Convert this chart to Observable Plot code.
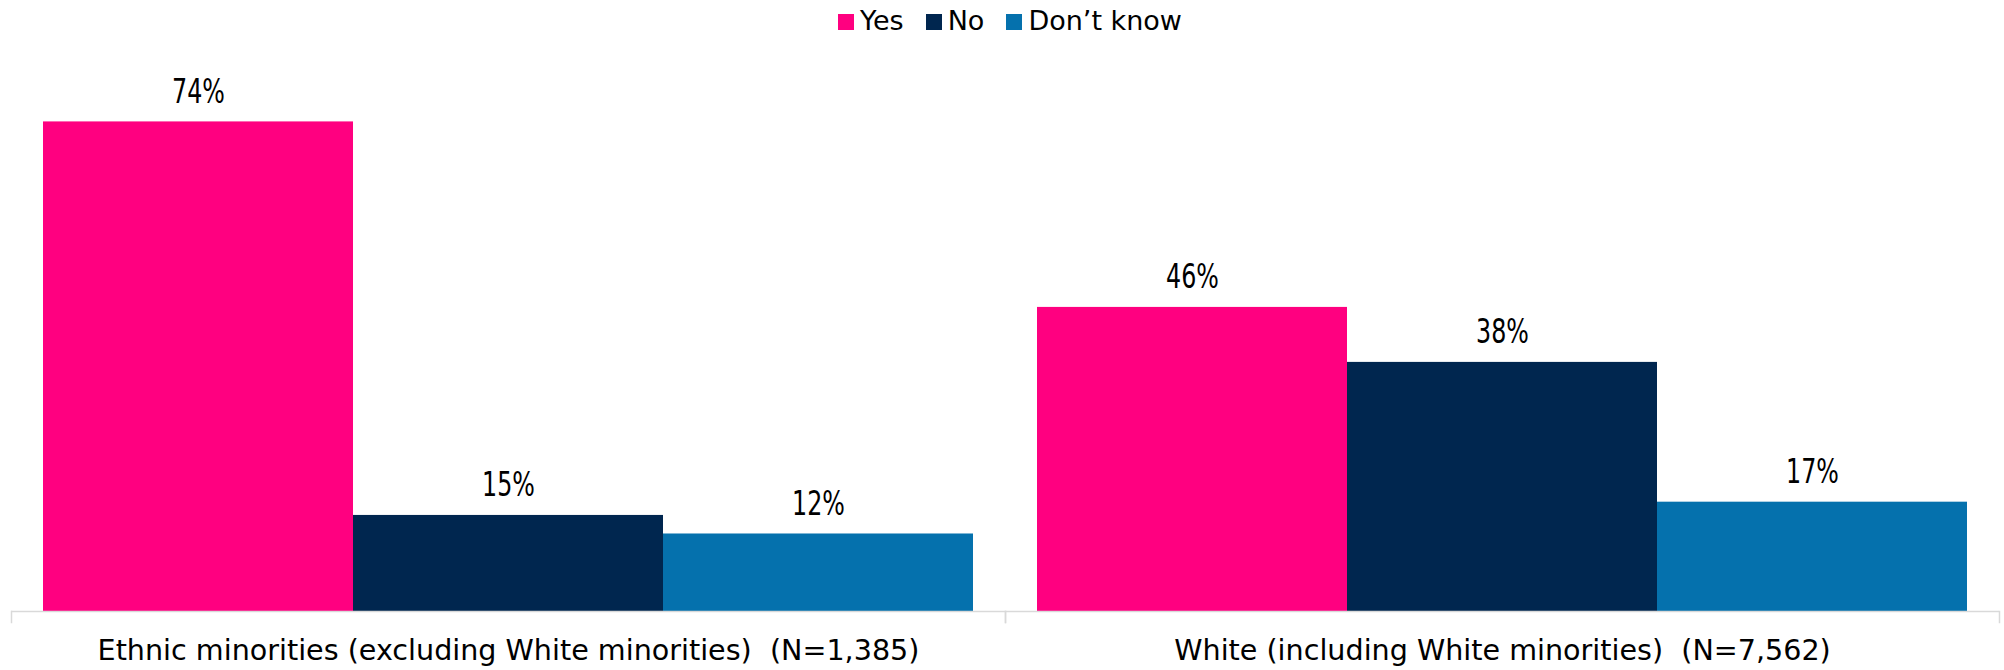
<!DOCTYPE html>
<html>
<head>
<meta charset="utf-8">
<script src="https://cdn.jsdelivr.net/npm/d3@7"></script>
<script src="https://cdn.jsdelivr.net/npm/@observablehq/plot@0.6"></script>
<style>
  html, body { margin: 0; padding: 0; background: #fff; }
  body { width: 2004px; font-family: "DejaVu Sans", sans-serif; }
  #legend { height: 40px; display: flex; justify-content: center; align-items: center; gap: 22px; font-size: 27px; color: #000; padding-left: 16px; box-sizing: border-box; }
  #legend .item { display: flex; align-items: center; gap: 6px; }
  #legend .sw { width: 16px; height: 16px; display: inline-block; margin-top: 3px; }
  svg text { white-space: pre; }
</style>
</head>
<body>
<div id="legend"></div>
<div id="chart"></div>
<script>
const groups = [
  "Ethnic minorities (excluding White minorities)  (N=1,385)",
  "White (including White minorities)  (N=7,562)"
];
const responses = ["Yes", "No", "Don\u2019t know"];
const colors = ["#FF0080", "#00264F", "#0571AD"];
const ethnicValues = [73.9, 14.5, 11.7];
const whiteValues = [45.9, 37.6, 16.5];

const seriesByGroup = [ethnicValues, whiteValues];
const data = groups.flatMap((g, gi) =>
  responses.map((r, ri) => ({group: g, response: r, value: seriesByGroup[gi][ri]}))
);

// Legend (HTML, above the SVG)
const legend = document.getElementById("legend");
responses.forEach((r, i) => {
  const item = document.createElement("span");
  item.className = "item";
  const sw = document.createElement("span");
  sw.className = "sw";
  sw.style.background = colors[i];
  const label = document.createElement("span");
  label.textContent = r;
  item.appendChild(sw);
  item.appendChild(label);
  legend.appendChild(item);
});

const chart = Plot.plot({
  width: 2004,
  height: 630,
  marginLeft: 11,
  marginRight: 5,
  marginTop: 41,
  marginBottom: 59,
  style: {fontFamily: "'DejaVu Sans', sans-serif", fontSize: "28.6px", color: "#000", background: "#fff"},
  fx: {domain: groups, padding: 0, label: null, axis: "bottom", tickSize: 0, tickPadding: 28},
  x: {domain: responses, paddingInner: 0, paddingOuter: 0.1, axis: null},
  y: {domain: [0, 80], axis: null},
  color: {domain: responses, range: colors},
  marks: [
    Plot.barY(data, {fx: "group", x: "response", y: "value", fill: "response"}),
    Plot.ruleY([0], {stroke: "#d9d9d9", strokeWidth: 1.5}),
    Plot.frame({anchor: "left", stroke: "#d9d9d9", strokeWidth: 1.5, insetTop: 530, insetBottom: -11}),
    Plot.frame({anchor: "right", stroke: "#d9d9d9", strokeWidth: 1.5, insetTop: 530, insetBottom: -11}),
    Plot.text(data, {
      fx: "group", x: "response", y: "value",
      text: d => Math.round(d.value) + "%",
      lineAnchor: "bottom", dy: -19,
      fontSize: 33, fontFamily: "'DejaVu Sans Condensed', 'DejaVu Sans', sans-serif",
      fill: "#000"
    })
  ]
});
document.getElementById("chart").appendChild(chart);

// Narrow the value labels to match the reference's condensed numerals
d3.select(chart).selectAll('g[aria-label="text"] text').each(function() {
  const w = this.getComputedTextLength();
  this.setAttribute("textLength", (w * 0.8).toFixed(1));
  this.setAttribute("lengthAdjust", "spacingAndGlyphs");
});
</script>
</body>
</html>
